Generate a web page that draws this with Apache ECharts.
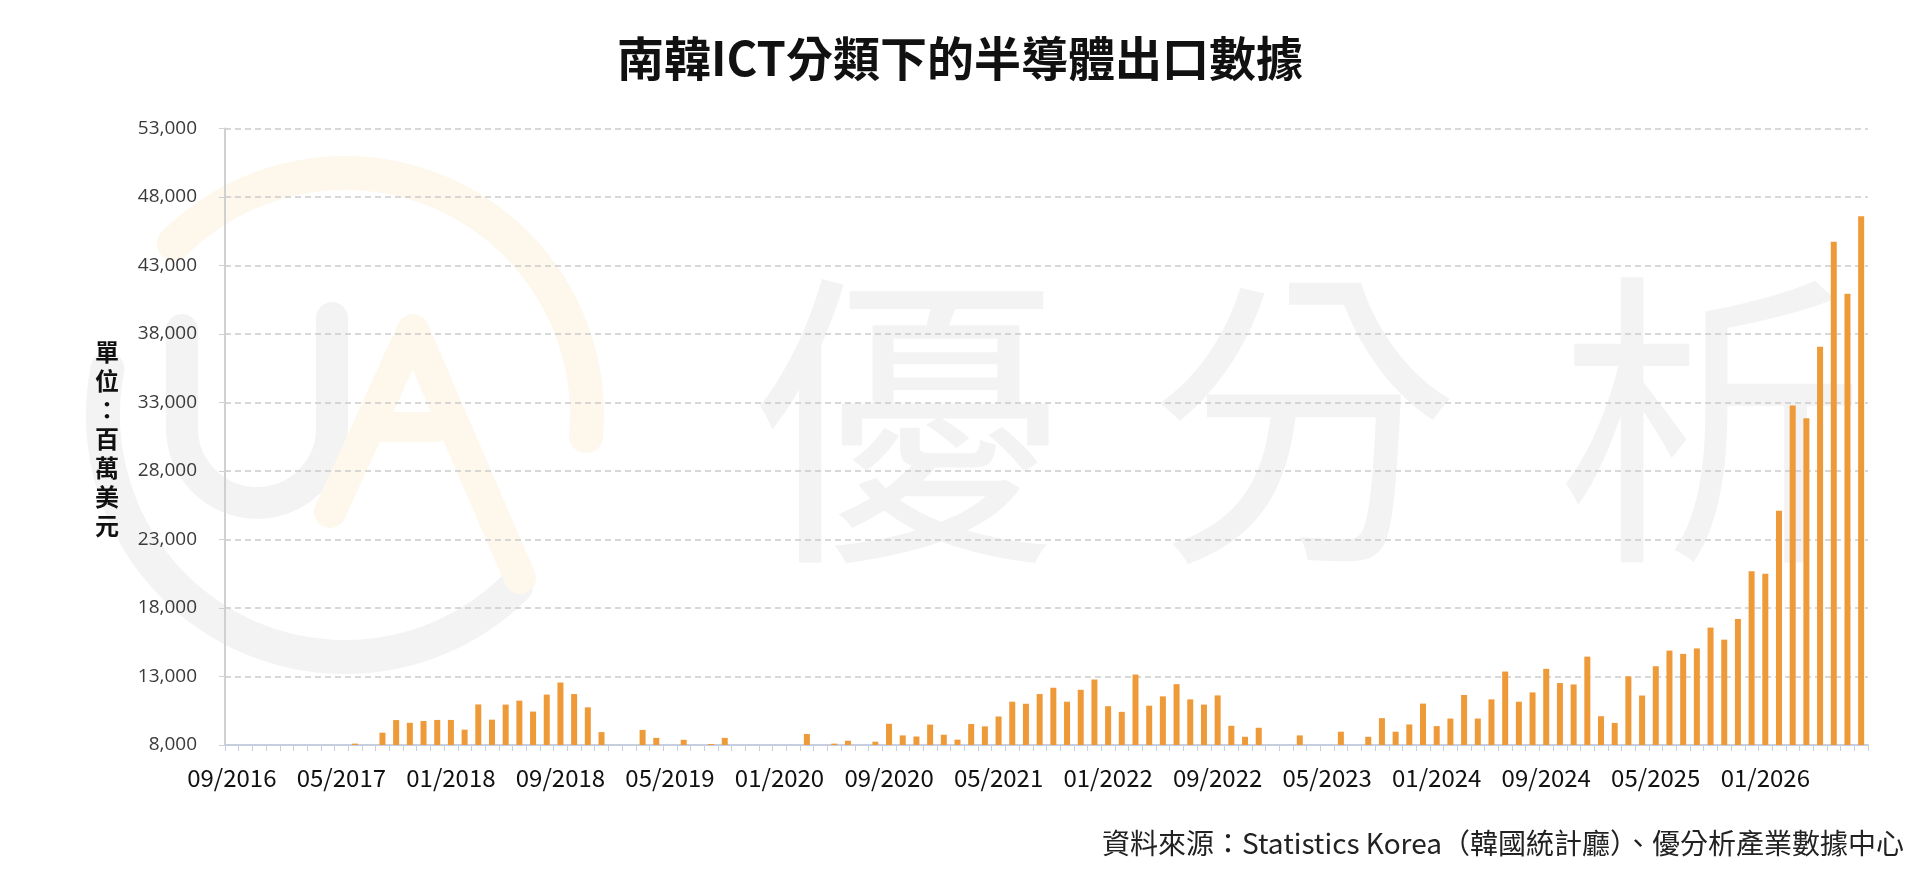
<!DOCTYPE html>
<html>
<head>
<meta charset="utf-8">
<script src="https://cdn.jsdelivr.net/npm/echarts@6.0.0/dist/echarts.min.js"></script>
<style>
html,body{margin:0;padding:0;background:#ffffff;}
#chart{width:1920px;height:893px;}
</style>
</head>
<body>
<div id="chart"></div>
<script>
// ---- data ----
const categories = [
  '09/2016','10/2016','11/2016','12/2016',
  '01/2017','02/2017','03/2017','04/2017','05/2017','06/2017','07/2017','08/2017','09/2017','10/2017','11/2017','12/2017',
  '01/2018','02/2018','03/2018','04/2018','05/2018','06/2018','07/2018','08/2018','09/2018','10/2018','11/2018','12/2018',
  '01/2019','02/2019','03/2019','04/2019','05/2019','06/2019','07/2019','08/2019','09/2019','10/2019','11/2019','12/2019',
  '01/2020','02/2020','03/2020','04/2020','05/2020','06/2020','07/2020','08/2020','09/2020','10/2020','11/2020','12/2020',
  '01/2021','02/2021','03/2021','04/2021','05/2021','06/2021','07/2021','08/2021','09/2021','10/2021','11/2021','12/2021',
  '01/2022','02/2022','03/2022','04/2022','05/2022','06/2022','07/2022','08/2022','09/2022','10/2022','11/2022','12/2022',
  '01/2023','02/2023','03/2023','04/2023','05/2023','06/2023','07/2023','08/2023','09/2023','10/2023','11/2023','12/2023',
  '01/2024','02/2024','03/2024','04/2024','05/2024','06/2024','07/2024','08/2024','09/2024','10/2024','11/2024','12/2024',
  '01/2025','02/2025','03/2025','04/2025','05/2025','06/2025','07/2025','08/2025','09/2025','10/2025','11/2025','12/2025',
  '01/2026','02/2026','03/2026','04/2026','05/2026','06/2026','07/2026','08/2026'
];

// 半導體出口（百萬美元）; null = below the 8,000 axis floor (no visible bar)
const exportValues = [
  null, null, null, null,
  null, null, null, null, null, 8100, null, 8900, 9820, 9620, 9750, 9830,
  9830, 9120, 10960, 9850, 10950, 11240, 10440, 11680, 12560, 11720, 10750, 8940,
  null, null, 9100, 8520, null, 8380, null, 8070, 8520, null, null, null,
  null, null, 8800, null, 8100, 8310, null, 8240, 9550, 8700, 8620, 9490,
  8750, 8390, 9530, 9360, 10080, 11160, 11010, 11720, 12180, 11160, 12030, 12780,
  10830, 10420, 13140, 10870, 11550, 12440, 11330, 10950, 11620, 9400, 8600, 9260,
  null, null, 8700, null, null, 8970, null, 8600, 9960, 8970, 9500, 11020,
  9380, 9930, 11650, 9930, 11330, 13360, 11160, 11840, 13560, 12520, 12420, 14450,
  10100, 9610, 13010, 11610, 13750, 14890, 14650, 15050, 16570, 15690, 17200, 20690,
  20500, 25090, 32780, 31850, 37070, 44730, 40940, 46600
];

const yTicks = [8000, 13000, 18000, 23000, 28000, 33000, 38000, 43000, 48000, 53000];

const titleText = '南韓ICT分類下的半導體出口數據';
const unitText = '單位：百萬美元';
const sourceText = '資料來源：Statistics Korea（韓國統計廳）、優分析產業數據中心';
const watermarkChars = ['優', '分', '析'];

// ---- chart ----
const chart = echarts.init(document.getElementById('chart'), null, {renderer: 'canvas'});

const wmGray = '#f3f3f3';
const wmOrange = '#fef7eb';
const deg = Math.PI / 180;

function wmText(ch, x) {
  return { type: 'text', z: -10, silent: true, x: x, y: 420,
    style: { text: ch, fill: wmGray, fontSize: 310, fontFamily: '"Noto Sans CJK TC", sans-serif',
      align: 'center', verticalAlign: 'middle' } };
}

const option = {
  backgroundColor: '#ffffff',
  animation: false,
  title: {
    text: titleText,
    left: 'center',
    top: 30,
    textStyle: {
      fontFamily: '"Noto Sans CJK TC", "Noto Sans", sans-serif',
      fontSize: 47,
      fontWeight: 'bold',
      color: '#111111'
    }
  },
  graphic: [
    // watermark logo ring (orange upper part, gray lower part)
    { type: 'arc', z: -10, silent: true,
      shape: { cx: 345, cy: 415, r: 242, startAngle: -135 * deg, endAngle: 5 * deg, clockwise: true },
      style: { stroke: wmOrange, lineWidth: 34, fill: null, lineCap: 'round' } },
    { type: 'arc', z: -10, silent: true,
      shape: { cx: 345, cy: 415, r: 242, startAngle: 45 * deg, endAngle: 191 * deg, clockwise: true },
      style: { stroke: wmGray, lineWidth: 34, fill: null, lineCap: 'round' } },
    // "U"
    { type: 'line', z: -10, silent: true,
      shape: { x1: 182, y1: 330, x2: 182, y2: 428 },
      style: { stroke: wmGray, lineWidth: 32, lineCap: 'round' } },
    { type: 'line', z: -10, silent: true,
      shape: { x1: 332, y1: 318, x2: 332, y2: 428 },
      style: { stroke: wmGray, lineWidth: 32, lineCap: 'round' } },
    { type: 'arc', z: -10, silent: true,
      shape: { cx: 257, cy: 428, r: 75, startAngle: 0, endAngle: Math.PI, clockwise: true },
      style: { stroke: wmGray, lineWidth: 32, fill: null } },
    // "A"
    { type: 'polyline', z: -10, silent: true,
      shape: { points: [[330, 512], [413, 330], [520, 578]] },
      style: { stroke: wmOrange, lineWidth: 32, fill: null, lineCap: 'round', lineJoin: 'round' } },
    { type: 'line', z: -10, silent: true,
      shape: { x1: 382, y1: 427, x2: 436, y2: 427 },
      style: { stroke: wmOrange, lineWidth: 30, lineCap: 'round' } },
    // watermark text
    wmText(watermarkChars[0], 906),
    wmText(watermarkChars[1], 1304),
    wmText(watermarkChars[2], 1711),
    // unit label (vertical)
    { type: 'text', x: 107, y: 439,
      style: { text: unitText.split('').join('\n'), fill: '#111111', fontSize: 24, fontWeight: 'bold', lineHeight: 29,
        fontFamily: '"Noto Sans CJK TC", sans-serif', align: 'center', verticalAlign: 'middle' } },
    // source
    { type: 'text', right: 16, top: 829,
      style: { text: sourceText, fill: '#222222', fontSize: 28,
        fontFamily: '"Noto Sans CJK TC", sans-serif' } }
  ],
  grid: {
    left: 225,
    right: 52,
    top: 128.5,
    bottom: 148,
    containLabel: false
  },
  xAxis: {
    type: 'category',
    data: categories,
    boundaryGap: true,
    axisLine: { show: true, lineStyle: { color: '#c6cedf', width: 2 } },
    axisTick: { show: true, interval: 0, length: 6, lineStyle: { color: '#c6cedf', width: 1 } },
    axisLabel: {
      interval: 7,
      margin: 21,
      color: '#111111',
      fontSize: 24,
      fontFamily: '"Noto Sans CJK TC", "Noto Sans", sans-serif'
    },
    splitLine: { show: false }
  },
  yAxis: {
    type: 'value',
    min: yTicks[0],
    max: yTicks[yTicks.length - 1],
    interval: yTicks[1] - yTicks[0],
    axisLine: { show: true, lineStyle: { color: '#d0d0d0', width: 2 } },
    axisTick: { show: true, length: 6, lineStyle: { color: '#d0d0d0', width: 1 } },
    axisLabel: {
      margin: 28,
      color: '#3a3a3a',
      fontSize: 19,
      fontFamily: '"Open Sans", "Noto Sans", sans-serif',
      formatter: function (v) { return v.toLocaleString('en-US'); }
    },
    splitLine: { show: true, lineStyle: { color: '#cccccc', width: 1.5, type: [6, 4] } }
  },
  series: [{
    name: '半導體出口',
    type: 'bar',
    data: exportValues,
    barWidth: 6,
    clip: true,
    itemStyle: { color: '#ee9a38' }
  }]
};

chart.setOption(option);
</script>
</body>
</html>
